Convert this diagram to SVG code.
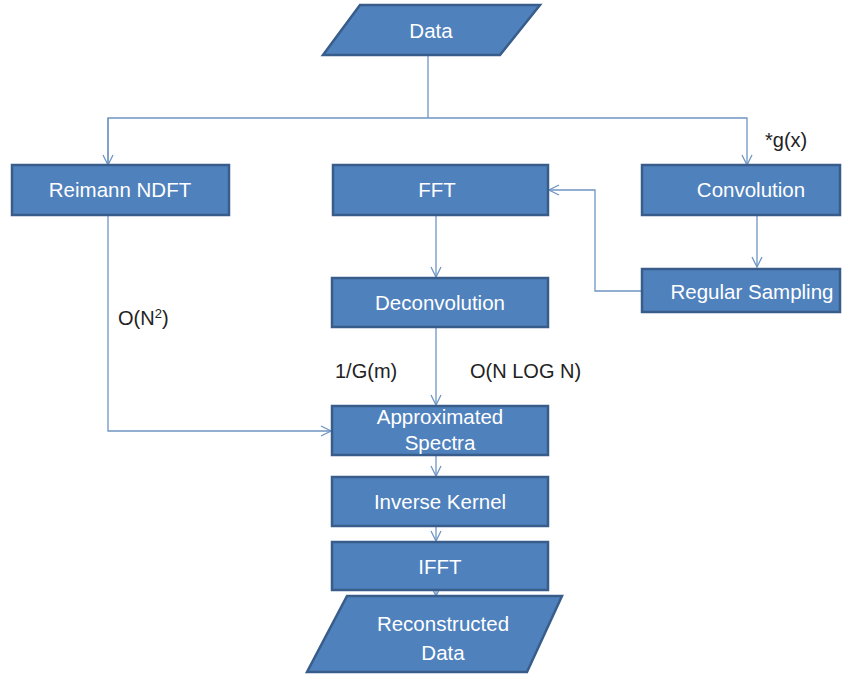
<svg xmlns="http://www.w3.org/2000/svg" width="851" height="674" viewBox="0 0 851 674">
<style>
.box{fill:#4F81BD;stroke:#385D8A;stroke-width:2.5}
.t{font-family:"Liberation Sans",Arial,sans-serif;font-size:20.5px;fill:#FFFFFF;text-anchor:middle}
.lbl{font-family:"Liberation Sans",Arial,sans-serif;font-size:20px;fill:#222222}
.c{fill:none;stroke:#6F95C4;stroke-width:1.3}
</style>
<defs>
<marker id="arr" viewBox="0 0 12 12" refX="11" refY="6" markerWidth="12" markerHeight="12" markerUnits="userSpaceOnUse" orient="auto">
<path d="M1,1 L11,6 L1,11" fill="none" stroke="#6F95C4" stroke-width="1.3"/>
</marker>
</defs>
<g id="connectors">
<path class="c" d="M428,55 V118"/>
<path class="c" d="M108,165 V118 H747 V165" marker-end="url(#arr)"/>
<path class="c" d="M108,118 V165" marker-end="url(#arr)"/>
<path class="c" d="M757,215 V267" marker-end="url(#arr)"/>
<path class="c" d="M642,291 H595 V190 H549" marker-end="url(#arr)"/>
<path class="c" d="M436,215 V277" marker-end="url(#arr)"/>
<path class="c" d="M436,327 V405" marker-end="url(#arr)"/>
<path class="c" d="M108,215 V431 H331" marker-end="url(#arr)"/>
<path class="c" d="M436,455 V476" marker-end="url(#arr)"/>
<path class="c" d="M436,526 V541" marker-end="url(#arr)"/>
<path class="c" d="M436,590 V596" marker-end="url(#arr)"/>
</g>
<g id="data"><polygon class="box" points="360,5 540,5 500,55 323,55"/><text class="t" x="431" y="38">Data</text></g>
<g id="reimann"><rect class="box" x="12" y="165" width="217" height="50"/><text class="t" x="120" y="197">Reimann NDFT</text></g>
<g id="fft"><rect class="box" x="333" y="165" width="215" height="50"/><text class="t" x="437" y="197">FFT</text></g>
<g id="convolution"><rect class="box" x="642" y="165" width="198" height="50"/><text class="t" x="751" y="197">Convolution</text></g>
<g id="sampling"><rect class="box" x="642" y="269" width="198" height="43"/><text class="t" x="752" y="299">Regular Sampling</text></g>
<g id="deconvolution"><rect class="box" x="332" y="278" width="216" height="49"/><text class="t" x="440" y="310">Deconvolution</text></g>
<g id="approx"><rect class="box" x="332" y="406" width="216" height="49"/><text class="t" x="440" y="424">Approximated</text><text class="t" x="440" y="450">Spectra</text></g>
<g id="inverse"><rect class="box" x="332" y="477" width="216" height="49"/><text class="t" x="440" y="509">Inverse Kernel</text></g>
<g id="ifft"><rect class="box" x="332" y="542" width="216" height="48"/><text class="t" x="440" y="574">IFFT</text></g>
<g id="reconstructed"><polygon class="box" points="347,596 562,596 527,672 307,672"/><text class="t" x="443" y="631">Reconstructed</text><text class="t" x="443" y="660">Data</text></g>
<g id="labels">
<text class="lbl" x="765" y="147">*g(x)</text>
<text class="lbl" x="118" y="325">O(N<tspan font-size="13" dy="-7">2</tspan><tspan dy="7">)</tspan></text>
<text class="lbl" x="335" y="378">1/G(m)</text>
<text class="lbl" x="470" y="378">O(N LOG N)</text>
</g>
</svg>
